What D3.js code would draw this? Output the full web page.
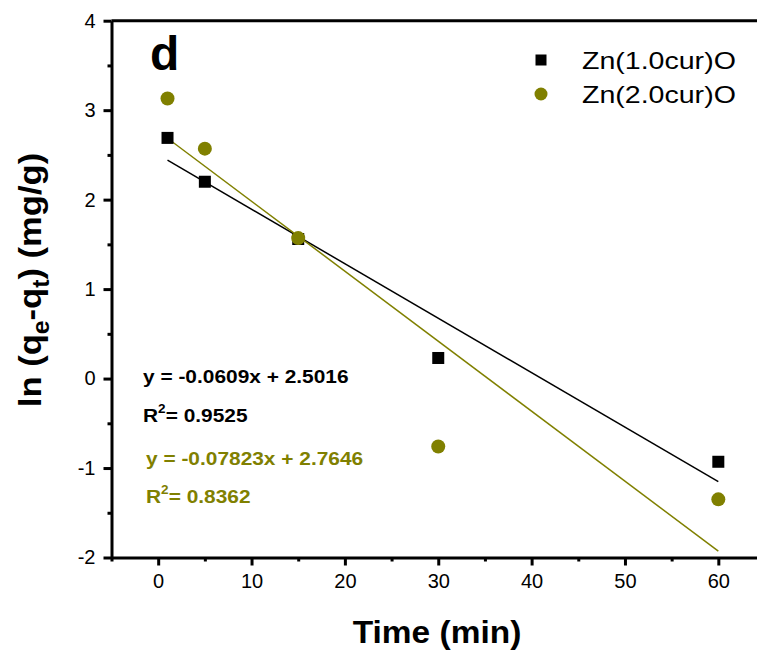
<!DOCTYPE html>
<html><head><meta charset="utf-8">
<script src="https://cdn.jsdelivr.net/npm/d3@7"></script>
<style>body{margin:0;background:#fff} svg{display:block}</style>
</head><body><svg id="c" width="757" height="655"></svg>
<script>
// ---- data ----
const timeMin = [1, 5, 15, 30, 60];
const zn10 = [2.69, 2.20, 1.56, 0.23, -0.93];
const zn20 = [3.13, 2.57, 1.57, -0.76, -1.35];
const seriesNames = ["Zn(1.0cur)O", "Zn(2.0cur)O"];
const fitSlopes = [-0.0609, -0.07823];
const fitIntercepts = [2.5016, 2.7646];
const fitEquations = ["y = -0.0609x + 2.5016", "y = -0.07823x + 2.7646"];
const fitR2 = ["0.9525", "0.8362"];
const xTicks = [0, 10, 20, 30, 40, 50, 60];
const xMinor = [-5, 5, 15, 25, 35, 45, 55, 65];
const yTicks = [-2, -1, 0, 1, 2, 3, 4];
const yMinor = [-1.5, -0.5, 0.5, 1.5, 2.5, 3.5];

const OLIVE = "#808000";
const FONT = "'Liberation Sans', Arial, sans-serif";
const SX = 1.13;

const svg = d3.select("#c");
const x = d3.scaleLinear().domain([-5, 65]).range([111.5, 765]);
const y = d3.scaleLinear().domain([-2, 4]).range([557.5, 20.7]);
const fmt = v => String(v);

function stext(g, px, py, sx) {
  return g.append("text").attr("transform", `translate(${px},${py}) scale(${sx},1)`)
    .attr("font-family", FONT);
}

// axes
const xAxis = svg.append("g").attr("transform", `translate(0,${y(-2)})`)
  .call(d3.axisBottom(x).tickValues(xTicks).tickFormat(fmt).tickSize(8).tickSizeOuter(0).tickPadding(8));
const xMin = svg.append("g").attr("transform", `translate(0,${y(-2)})`)
  .call(d3.axisBottom(x).tickValues(xMinor).tickSize(4).tickSizeOuter(0).tickFormat(""));
const yAxis = svg.append("g").attr("transform", `translate(${x(-5)},0)`)
  .call(d3.axisLeft(y).tickValues(yTicks).tickFormat(fmt).tickSize(8).tickSizeOuter(0).tickPadding(8));
const yMin = svg.append("g").attr("transform", `translate(${x(-5)},0)`)
  .call(d3.axisLeft(y).tickValues(yMinor).tickSize(4).tickSizeOuter(0).tickFormat(""));
[xAxis, xMin, yAxis, yMin].forEach(a => {
  a.selectAll("path.domain").attr("stroke", "#000").attr("stroke-width", 3);
  a.selectAll(".tick line").attr("stroke", "#000").attr("stroke-width", 3);
  a.selectAll(".tick text").attr("font-family", FONT).attr("font-size", 20).attr("fill", "#000");
});
xMin.select("path.domain").remove();
yMin.select("path.domain").remove();
// top and right frame
svg.append("line").attr("x1", x(-5)).attr("x2", x(65)).attr("y1", y(4)).attr("y2", y(4))
  .attr("stroke", "#000").attr("stroke-width", 3);
svg.append("line").attr("x1", x(65)).attr("x2", x(65)).attr("y1", y(4)).attr("y2", y(-2))
  .attr("stroke", "#000").attr("stroke-width", 3);

// fit lines
const fitColors = ["#000", OLIVE];
fitSlopes.forEach((m, i) => {
  const x0 = timeMin[0], x1 = timeMin[timeMin.length - 1];
  svg.append("line")
    .attr("x1", x(x0)).attr("y1", y(m * x0 + fitIntercepts[i]))
    .attr("x2", x(x1)).attr("y2", y(m * x1 + fitIntercepts[i]))
    .attr("stroke", fitColors[i]).attr("stroke-width", 1.5);
});

// points
const sq = 12;
svg.append("g").selectAll("rect").data(timeMin.map((t, i) => [t, zn10[i]])).join("rect")
  .attr("x", d => x(d[0]) - sq / 2).attr("y", d => y(d[1]) - sq / 2)
  .attr("width", sq).attr("height", sq).attr("fill", "#000");
svg.append("g").selectAll("circle").data(timeMin.map((t, i) => [t, zn20[i]])).join("circle")
  .attr("cx", d => x(d[0])).attr("cy", d => y(d[1])).attr("r", 7).attr("fill", OLIVE);

// legend
svg.append("rect").attr("x", 541 - 5.5).attr("y", 60 - 5.5).attr("width", 11).attr("height", 11).attr("fill", "#000");
svg.append("circle").attr("cx", 541).attr("cy", 94).attr("r", 6.5).attr("fill", OLIVE);
stext(svg, 582, 69, 1.19).attr("font-size", 24).text(seriesNames[0]);
stext(svg, 582, 103, 1.19).attr("font-size", 24).text(seriesNames[1]);

// panel label
stext(svg, 150, 70, 1).attr("font-size", 48).attr("font-weight", "bold").text("d");

// equations
const eqPos = [[143, 383, 422], [146, 465, 503]];
fitEquations.forEach((eq, i) => {
  const [ex, ey, ry] = eqPos[i];
  stext(svg, ex, ey, SX).attr("font-size", 18.5).attr("font-weight", "bold").attr("fill", fitColors[i]).text(eq);
  const t = stext(svg, ex, ry, SX).attr("font-size", 18.5).attr("font-weight", "bold").attr("fill", fitColors[i]);
  t.append("tspan").text("R");
  t.append("tspan").attr("font-size", 12).attr("dy", -9).text("2");
  t.append("tspan").attr("dy", 9).text("= " + fitR2[i]);
});

// axis titles
stext(svg, 437, 643, 1.08).attr("font-size", 31).attr("font-weight", "bold").attr("text-anchor", "middle").text("Time (min)");
const yt = svg.append("text").attr("transform", `translate(41,280) rotate(-90) scale(1.08,1)`)
  .attr("font-family", FONT).attr("font-size", 32).attr("font-weight", "bold").attr("text-anchor", "middle");
yt.append("tspan").text("ln (q");
yt.append("tspan").attr("font-size", 23).attr("dy", 8).text("e");
yt.append("tspan").attr("dy", -8).text("-q");
yt.append("tspan").attr("font-size", 23).attr("dy", 8).text("t");
yt.append("tspan").attr("dy", -8).text(") (mg/g)");
</script></body></html>
